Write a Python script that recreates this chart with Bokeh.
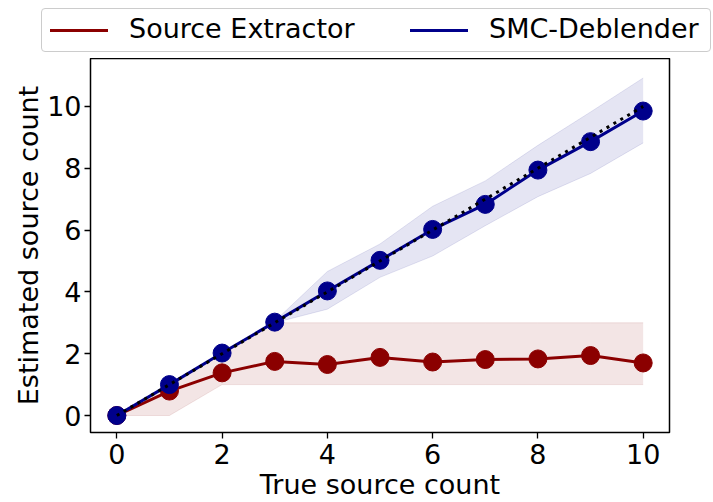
from bokeh.plotting import figure
from bokeh.layouts import column
from bokeh.models import Range1d, FixedTicker, Div
from bokeh.embed import file_html
from bokeh.resources import INLINE

# ---- data ----
true_counts = [0, 1, 2, 3, 4, 5, 6, 7, 8, 9, 10]

sextractor_mean = [0.0, 0.79, 1.38, 1.75, 1.65, 1.88, 1.73, 1.81, 1.83, 1.94, 1.70]
sextractor_low = [0, 0, 1, 1, 1, 1, 1, 1, 1, 1, 1]
sextractor_high = [0, 1, 2, 3, 3, 3, 3, 3, 3, 3, 3]

smc_mean = [0.0, 1.0, 2.02, 3.02, 4.03, 5.02, 6.02, 6.83, 7.94, 8.86, 9.85]
smc_low = [0, 1, 2, 3.0, 3.44, 4.47, 5.16, 6.14, 7.08, 7.83, 8.82]
smc_high = [0, 1, 2, 3.05, 4.66, 5.55, 6.77, 7.59, 8.74, 9.82, 10.92]

x_ticks = [0, 2, 4, 6, 8, 10]
y_ticks = [0, 2, 4, 6, 8, 10]

series_names = ["Source Extractor", "SMC-Deblender"]

RED = "#8b0000"
BLUE = "#00008b"
FONT = "DejaVu Sans"
FS = "27px"

# ---------- main plot ----------
p = figure(width=713, height=444, output_backend="svg", toolbar_location=None,
           x_range=Range1d(-0.5, 10.5), y_range=Range1d(-0.55, 11.55),
           min_border_left=90, min_border_right=44, min_border_top=0, min_border_bottom=69)

p.xgrid.visible = False
p.ygrid.visible = False
p.outline_line_color = "black"
p.outline_line_width = 1.5
p.outline_line_alpha = 1.0

for ax, ticks in ((p.xaxis, x_ticks), (p.yaxis, y_ticks)):
    ax.ticker = FixedTicker(ticks=ticks)
    ax.minor_tick_line_color = None
    ax.major_tick_in = 0
    ax.major_tick_out = 6
    ax.major_tick_line_width = 1.3
    ax.major_tick_line_color = "black"
    ax.axis_line_color = None
    ax.major_label_text_font = FONT
    ax.major_label_text_font_size = FS
    ax.major_label_text_color = "black"
    ax.axis_label_text_font = FONT
    ax.axis_label_text_font_size = FS
    ax.axis_label_text_font_style = "normal"
    ax.axis_label_text_color = "black"

p.xaxis.major_label_standoff = 5
p.xaxis.major_label_text_line_height = 0.5
p.xaxis.axis_label = "True source count"
p.xaxis.axis_label_standoff = 2
p.xaxis.axis_label_text_line_height = 0.6
p.yaxis.major_label_standoff = 3
p.yaxis.axis_label = "Estimated source count"
p.yaxis.axis_label_standoff = 0

# bands
p.varea(x=true_counts, y1=sextractor_low, y2=sextractor_high, fill_color=RED, fill_alpha=0.1)
p.line(true_counts, sextractor_low, line_color=RED, line_alpha=0.1, line_width=1)
p.line(true_counts, sextractor_high, line_color=RED, line_alpha=0.1, line_width=1)

p.varea(x=true_counts, y1=smc_low, y2=smc_high, fill_color=BLUE, fill_alpha=0.1)
p.line(true_counts, smc_low, line_color=BLUE, line_alpha=0.1, line_width=1)
p.line(true_counts, smc_high, line_color=BLUE, line_alpha=0.1, line_width=1)

# series
p.line(true_counts, sextractor_mean, line_color=RED, line_width=3)
p.scatter(true_counts, sextractor_mean, size=18, fill_color=RED, line_color=RED)

p.line(true_counts, smc_mean, line_color=BLUE, line_width=3)
p.scatter(true_counts, smc_mean, size=18, fill_color=BLUE, line_color=BLUE)

# identity line
p.line(true_counts, true_counts, line_color="black", line_width=3, line_dash="3 5")

# ---------- legend strip above the plot ----------
def key(color, name, left):
    return (
        f'<span style="position:absolute;left:{left}px;top:20px;width:58px;height:3px;'
        f'background:{color};"></span>'
        f'<span style="position:absolute;left:{left + 79}px;top:5px;line-height:30px;'
        f'white-space:nowrap;">{name}</span>'
    )

legend_html = (
    f'<div style="position:relative;width:713px;height:58px;font-family:\'{FONT}\';'
    f'font-size:{FS};color:black;">'
    f'<div style="position:absolute;left:41px;top:8px;width:670px;height:44px;'
    f'box-sizing:border-box;border:1px solid #cccccc;border-radius:4px;background:white;">'
    + key(RED, series_names[0], 8)
    + key(BLUE, series_names[1], 368)
    + '</div></div>'
)
lg = Div(text=legend_html, width=713, height=58, margin=0)

layout = column(lg, p, spacing=0)

open("out.html", "w").write(file_html(layout, INLINE))
